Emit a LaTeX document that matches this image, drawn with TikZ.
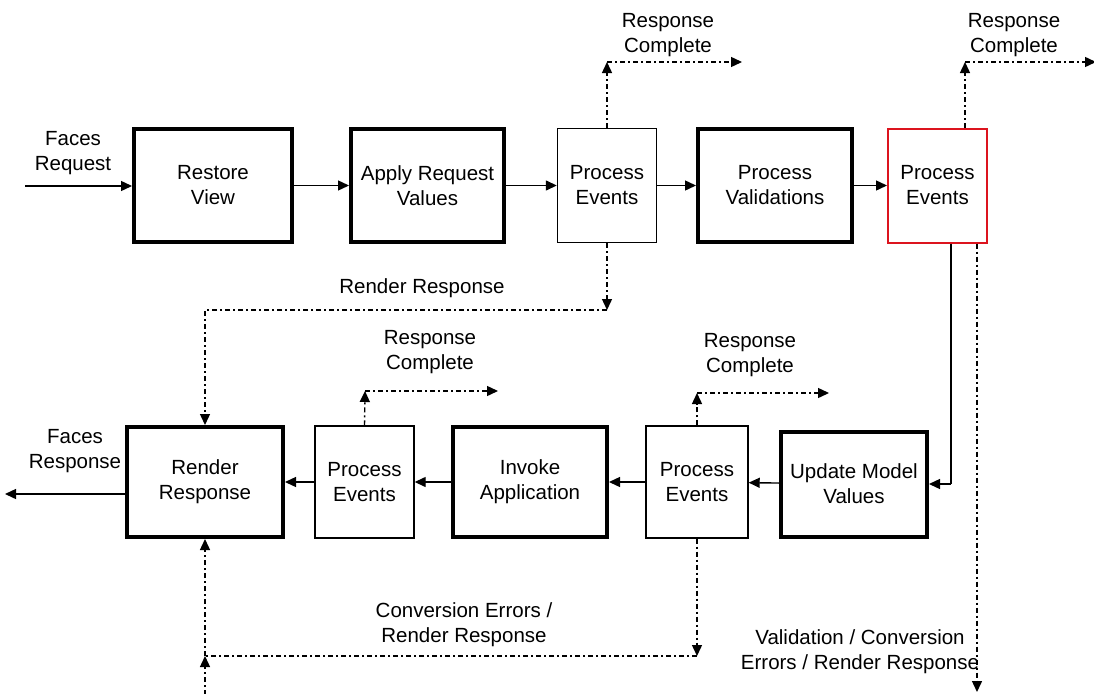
\documentclass[tikz,border=0pt]{standalone}
\usepackage{fontspec}
\setmainfont{Liberation Sans}
\usetikzlibrary{arrows.meta}
\definecolor{phasered}{RGB}{220,20,30}
\begin{document}
\begin{tikzpicture}[x=1pt,y=-1pt,
  every node/.style={font=\fontsize{20.5}{25}\selectfont, align=center, inner sep=0pt},
  phase/.style={draw, line width=4pt, minimum height=113pt},
  evbox/.style={draw, line width=1.4pt, minimum height=114pt, minimum width=99pt},
  arr/.style={line width=1.4pt, -{Triangle[length=11pt,width=10pt]}},
  plain/.style={line width=1.4pt},
  dsh/.style={line width=1.4pt, dash pattern=on 5pt off 3pt on 2pt off 3pt}]
\useasboundingbox (0,0) rectangle (1094,693);

% top row
\node[phase, minimum width=158pt] (RV)  at (213,185.5) {Restore\\View};
\node[phase, minimum width=153pt] (ARV) at (427.5,185.5) {Apply Request\\Values};
\node[evbox] (PE1) at (607,185.5) {Process\\Events};
\node[phase, minimum width=154pt] (PV)  at (775,185.5) {Process\\Validations};
\node[evbox, draw=phasered, line width=2pt] (PE2) at (937.5,185.5) {Process\\Events};

% bottom row
\node[phase, minimum width=156pt, minimum height=110pt] (RR) at (205,482) {Render\\Response};
\node[evbox, minimum height=112pt] (PE3) at (364.5,482) {Process\\Events};
\node[phase, minimum width=154pt, minimum height=110pt] (IA) at (530,482) {Invoke\\Application};
\node[evbox, minimum width=102pt, minimum height=112pt] (PE4) at (697,482) {Process\\Events};
\node[phase, minimum width=146pt, minimum height=105pt] (UMV) at (854,484) {Update Model\\Values};

% labels
\node (lFReq) at (73,153) {Faces\\Request};
\node (lRC1) at (668,35) {Response\\Complete};
\node (lRC2) at (1014,35) {Response\\Complete};
\node (lRR) at (422,288) {Render Response};
\node (lRC3) at (430,352) {Response\\Complete};
\node (lRC4) at (750,355) {Response\\Complete};
\node (lFRes) at (75,451) {Faces\\Response};
\node (lCE) at (464,625) {Conversion Errors /\\Render Response};
\node (lVC) at (860,652) {Validation / Conversion\\Errors / Render Response};

% free ends and corners
\coordinate (inStart) at (25,186);
\coordinate (outEnd) at (5,494);
\coordinate (rc1) at (607,62);
\coordinate (rc1e) at (742,62);
\coordinate (rc2) at (965,62);
\coordinate (rc2e) at (1096,62);
\coordinate (rc3) at (365,391);
\coordinate (rc3e) at (498,391);
\coordinate (rc4) at (697,393);
\coordinate (rc4e) at (829,393);
\coordinate (rr1) at (607,310);
\coordinate (ce1) at (697,656);
\coordinate (ce2) at (205,656);
\coordinate (ceIn) at (205,695);
\coordinate (upd) at (951,484);
\coordinate (vcEnd) at (977,692);

% main flow
\draw[arr] (inStart) -- (RV.west |- inStart);
\draw[arr] (RV) -- (ARV);
\draw[arr] (ARV) -- (PE1);
\draw[arr] (PE1) -- (PV);
\draw[arr] (PV) -- (PE2);
\draw[plain] ([xshift=13.5pt]PE2.south) -- (upd);
\draw[arr] (upd) -- (UMV.east |- upd);
\draw[arr] (UMV) -- (PE4);
\draw[arr] (PE4) -- (IA);
\draw[arr] (IA) -- (PE3);
\draw[arr] (PE3) -- (RR);
\draw[arr] (RR.west |- outEnd) -- (outEnd);

% response complete exits
\draw[dsh,arr] (PE1.north) -- (rc1);
\draw[dsh,arr] (rc1) -- (rc1e);
\draw[dsh,arr] ([xshift=27.5pt]PE2.north) -- (rc2);
\draw[dsh,arr] (rc2) -- (rc2e);
\draw[dsh,arr] (PE3.north) -- (rc3);
\draw[dsh,arr] (rc3) -- (rc3e);
\draw[dsh,arr] (PE4.north) -- (rc4);
\draw[dsh,arr] (rc4) -- (rc4e);

% render response shortcuts
\draw[dsh,arr] (PE1.south) -- (rr1);
\draw[dsh,arr] (rr1) -| (RR.north);
\draw[dsh,arr] (PE4.south) -- (ce1);
\draw[dsh] (ce1) -- (ce2);
\draw[dsh,arr] (ceIn) -- (ce2);
\draw[dsh,arr] (ce2) -- (RR.south);
\draw[dsh,arr] ([xshift=39.5pt]PE2.south) -- (vcEnd);
\end{tikzpicture}
\end{document}
